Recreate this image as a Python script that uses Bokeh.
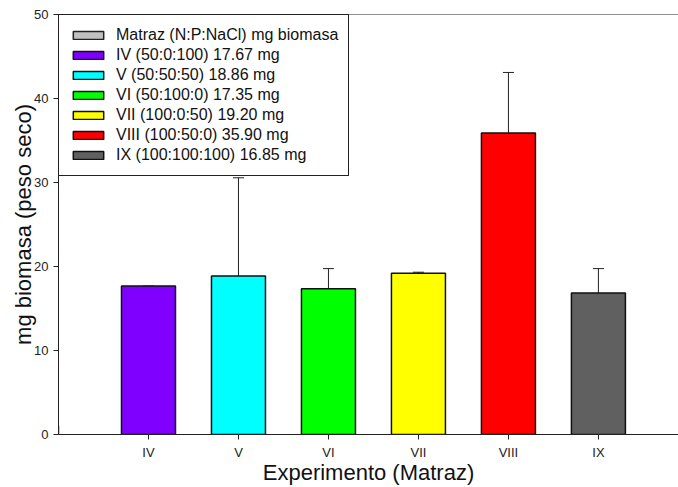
from bokeh.plotting import figure
from bokeh.models import (ColumnDataSource, Whisker, TeeHead, Legend, LegendItem,
                          FixedTicker, Range1d, Span)
from bokeh.embed import file_html
from bokeh.resources import INLINE

# Data
categories = ["IV", "V", "VI", "VII", "VIII", "IX"]
biomass = [17.67, 18.86, 17.35, 19.20, 35.90, 16.85]
errors = [0.0, 11.7, 2.4, 0.12, 7.2, 2.9]
legend_labels = [
    "IV (50:0:100) 17.67 mg",
    "V (50:50:50) 18.86 mg",
    "VI (50:100:0) 17.35 mg",
    "VII (100:0:50) 19.20 mg",
    "VIII (100:50:0) 35.90 mg",
    "IX (100:100:100) 16.85 mg",
]
legend_title_label = "Matraz (N:P:NaCl) mg biomasa"
y_ticks = [0, 10, 20, 30, 40, 50]

# Styles
bar_colors = ["#8000FF", "#00FFFF", "#00FF00", "#FFFF00", "#FF0000", "#606060"]
header_color = "#C0C0C0"
FONT = "Liberation Sans"

xpos = [i + 1 for i in range(len(categories))]

p = figure(width=678, height=487, output_backend="svg", toolbar_location=None,
           x_range=Range1d(0, 6.89), y_range=Range1d(0, 50),
           min_border_left=58, min_border_right=0, min_border_top=14,
           min_border_bottom=53)
p.background_fill_color = "white"
p.border_fill_color = "white"
p.outline_line_color = None
p.xgrid.visible = False
p.ygrid.visible = False

src = ColumnDataSource(dict(x=xpos,
                            upper=[b + e for b, e in zip(biomass, errors)],
                            lower=biomass))

# error bars (upper only)
wh = Whisker(source=src, base="x", upper="upper", lower="lower",
             line_color="#222222", line_width=1,
             upper_head=TeeHead(size=11, line_color="#222222", line_width=1),
             lower_head=None, level="underlay")
p.add_layout(wh)

# header legend renderer (placed outside the visible range, legend swatch only)
hdr = p.vbar(x=[-10], top=[1], width=0.6, fill_color=header_color,
             line_color="#222222", line_width=1.5)

renderers = []
for i in range(len(categories)):
    s = ColumnDataSource(dict(x=[xpos[i]], top=[biomass[i]]))
    r = p.vbar(x="x", top="top", width=0.6, source=s, fill_color=bar_colors[i],
               line_color="#111111", line_width=1.5)
    renderers.append(r)

items = [LegendItem(label=legend_title_label, renderers=[hdr])]
for lab, r in zip(legend_labels, renderers):
    items.append(LegendItem(label=lab, renderers=[r]))

legend = Legend(items=items, location="top_left", margin=0, padding=10,
                spacing=0, glyph_width=38, glyph_height=10, label_height=20,
                label_standoff=9, label_text_font=FONT,
                label_text_font_size="16px", label_text_color="#111111",
                border_line_color="#222222", border_line_width=1,
                border_line_alpha=1.0, background_fill_alpha=1.0)
p.add_layout(legend)

# top line of frame
p.add_layout(Span(location=50, dimension="width", line_color="#222222",
                  line_width=1))

# axes
p.xaxis.ticker = FixedTicker(ticks=xpos)
p.xaxis.major_label_overrides = {x: c for x, c in zip(xpos, categories)}
p.yaxis.ticker = FixedTicker(ticks=y_ticks)
for ax in (p.xaxis[0], p.yaxis[0]):
    ax.axis_line_color = "#222222"
    ax.axis_line_width = 1
    ax.major_tick_line_color = "#222222"
    ax.major_tick_out = 5
    ax.major_tick_in = 0
    ax.minor_tick_line_color = None
    ax.major_label_text_font = FONT
    ax.major_label_text_font_size = "13px"
    ax.major_label_text_color = "#222222"
    ax.axis_label_text_font = FONT
    ax.axis_label_text_font_size = "22px"
    ax.axis_label_text_font_style = "normal"
    ax.axis_label_text_color = "#111111"

p.xaxis.axis_label = "Experimento (Matraz)"
p.xaxis.major_label_standoff = 5
p.xaxis.axis_label_standoff = -3
p.yaxis.axis_label = "mg biomasa (peso seco)"
p.yaxis.major_label_standoff = 5
p.yaxis.axis_label_standoff = -5

open("out.html", "w").write(file_html(p, INLINE))
